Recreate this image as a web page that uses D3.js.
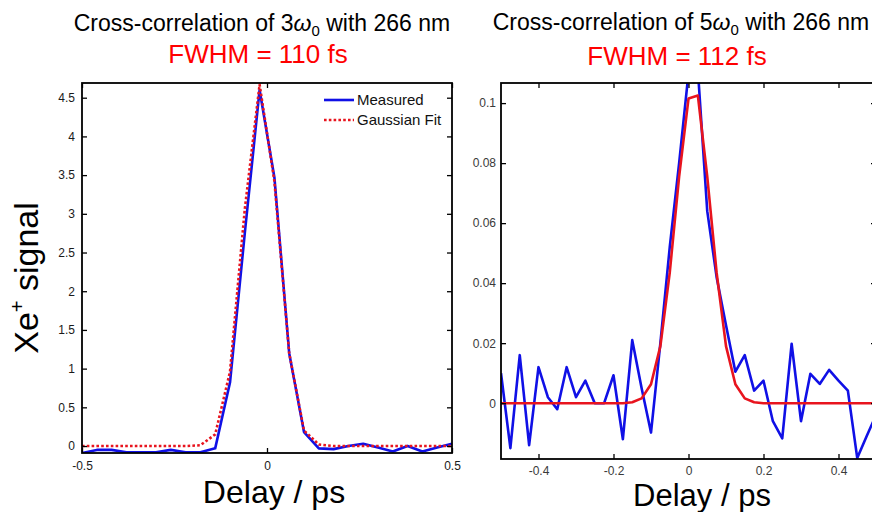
<!DOCTYPE html>
<html>
<head>
<meta charset="utf-8">
<script src="https://cdn.jsdelivr.net/npm/d3@7"></script>
<style>
  body { margin: 0; background: #fff; }
  svg { display: block; font-family: 'Liberation Sans', Arial, sans-serif; }
</style>
</head>
<body>
<div id="chart"></div>
<script>
// **********   Data   ******************************************************** //
var leftDelay = [-0.5, -0.46, -0.42, -0.38, -0.34, -0.3, -0.26, -0.22, -0.18, -0.14, -0.1, -0.06, -0.02,
  0.02, 0.06, 0.1, 0.14, 0.18, 0.22, 0.26, 0.3, 0.34, 0.38, 0.42, 0.46, 0.5];
var leftMeasured = [-0.09, -0.05, -0.05, -0.08, -0.08, -0.08, -0.05, -0.08, -0.08, -0.03, 0.82, 2.75, 4.6,
  3.47, 1.2, 0.18, -0.03, -0.04, 0.0, 0.03, -0.02, -0.07, 0.0, -0.07, -0.02, 0.03];
var leftFit = [0, 0, 0, 0, 0, 0, 0, 0, 0.01, 0.15, 0.96, 3.06, 4.67,
  3.42, 1.2, 0.2, 0.02, 0, 0, 0, 0, 0, 0, 0, 0, 0];
var leftXTicks = [-0.5, 0, 0.5];
var leftYTicks = [0, 0.5, 1, 1.5, 2, 2.5, 3, 3.5, 4, 4.5];

var rightDelay = [-0.5, -0.475, -0.45, -0.425, -0.4, -0.375, -0.35, -0.325, -0.3, -0.275, -0.25, -0.225,
  -0.2, -0.175, -0.15, -0.125, -0.1, -0.075, -0.05, -0.025, 0, 0.025, 0.05, 0.075, 0.1, 0.125, 0.15,
  0.175, 0.2, 0.225, 0.25, 0.275, 0.3, 0.325, 0.35, 0.375, 0.4, 0.425, 0.45, 0.475, 0.5];
var rightMeasured = [0.010, -0.015, 0.016, -0.014, 0.012, 0.002, -0.002, 0.012, 0.002, 0.0075, 0.0, 0.0,
  0.0093, -0.012, 0.021, 0.005, -0.0098, 0.02, 0.052, 0.08, 0.11, 0.111, 0.064, 0.042, 0.026, 0.0105, 0.016,
  0.0042, 0.0075, -0.006, -0.0117, 0.0198, -0.006, 0.0098, 0.0064, 0.0111, 0.0075, 0.0042, -0.0183, -0.011, -0.004];
var rightFit = [0, 0, 0, 0, 0, 0, 0, 0, 0, 0, 0, 0,
  0, 0, 0.0003, 0.0016, 0.0063, 0.019, 0.0435, 0.0755, 0.1015, 0.1025, 0.0755, 0.0435, 0.019, 0.0063, 0.0016,
  0.0003, 0, 0, 0, 0, 0, 0, 0, 0, 0, 0, 0, 0, 0];
var rightXTicks = [-0.4, -0.2, 0, 0.2, 0.4];
var rightYTicks = [0, 0.02, 0.04, 0.06, 0.08, 0.1];

var BLUE = '#1010e6', RED = '#e8141e';

var svg = d3.select('#chart').append('svg').attr('width', 872).attr('height', 512);

// **********   Panel   ******************************************************* //
function panel(o) {
  var x = d3.scaleLinear().domain([-0.5, 0.5]).range([o.left, o.right]);
  var y = d3.scaleLinear().domain(o.yDomain).range([o.bottom, o.top]);
  var g = svg.append('g');

  g.append('clipPath').attr('id', o.id)
    .append('rect')
    .attr('x', o.left).attr('y', o.top)
    .attr('width', o.right - o.left).attr('height', o.bottom - o.top);

  var line = d3.line()
    .x(function (d) { return x(d[0]); })
    .y(function (d) { return y(d[1]); });

  o.series.forEach(function (s) {
    g.append('path')
      .datum(d3.zip(o.delay, s.values))
      .attr('clip-path', 'url(#' + o.id + ')')
      .attr('fill', 'none')
      .attr('stroke', s.color)
      .attr('stroke-width', 2.6)
      .attr('stroke-dasharray', s.dash || null)
      .attr('stroke-linejoin', 'round')
      .attr('d', line);
  });

  var fmt = function (d) { return String(d); };
  var none = function () { return ''; };

  function styleAxis(a) {
    a.select('.domain').remove();
    a.selectAll('.tick line').attr('stroke', '#000').attr('stroke-width', 1.3);
    a.selectAll('.tick text').attr('fill', o.labelColor).style('font-size', '12px').style('font-family', 'inherit');
  }

  g.append('g').attr('transform', 'translate(0,' + o.bottom + ')')
    .call(d3.axisBottom(x).tickValues(o.xTicks).tickSizeInner(-5).tickSizeOuter(0).tickPadding(o.xPad).tickFormat(fmt))
    .call(styleAxis);
  g.append('g').attr('transform', 'translate(0,' + o.top + ')')
    .call(d3.axisTop(x).tickValues(o.xTicks).tickSizeInner(-5).tickSizeOuter(0).tickFormat(none))
    .call(styleAxis);
  g.append('g').attr('transform', 'translate(' + o.left + ',0)')
    .call(d3.axisLeft(y).tickValues(o.yTicks).tickSizeInner(-5).tickSizeOuter(0).tickPadding(o.yPad).tickFormat(fmt))
    .call(styleAxis);
  g.append('g').attr('transform', 'translate(' + o.right + ',0)')
    .call(d3.axisRight(y).tickValues(o.yTicks).tickSizeInner(-5).tickSizeOuter(0).tickFormat(none))
    .call(styleAxis);

  g.append('rect')
    .attr('x', o.left).attr('y', o.top)
    .attr('width', o.right - o.left).attr('height', o.bottom - o.top)
    .attr('fill', 'none').attr('stroke', '#000').attr('stroke-width', 1.8);

  return g;
}

var left = panel({
  id: 'clipL', left: 82, right: 452, top: 83, bottom: 453,
  yDomain: [-0.09, 4.69], delay: leftDelay,
  xTicks: leftXTicks, yTicks: leftYTicks, xPad: 8, yPad: 7, labelColor: '#1a1a1a',
  series: [
    { values: leftMeasured, color: BLUE },
    { values: leftFit, color: RED, dash: '2.6,2.2' }
  ]
});

panel({
  id: 'clipR', left: 501, right: 876, top: 83, bottom: 459,
  yDomain: [-0.0186, 0.1067], delay: rightDelay,
  xTicks: rightXTicks, yTicks: rightYTicks, xPad: 7, yPad: 5, labelColor: '#3a3a3a',
  series: [
    { values: rightMeasured, color: BLUE },
    { values: rightFit, color: RED }
  ]
});

// legend (left panel)
var legend = [
  { name: 'Measured', color: BLUE, dash: null, y: 100 },
  { name: 'Gaussian Fit', color: RED, dash: '2.6,2.2', y: 120 }
];
legend.forEach(function (l) {
  left.append('line').attr('x1', 324).attr('x2', 354).attr('y1', l.y).attr('y2', l.y)
    .attr('stroke', l.color).attr('stroke-width', 2.6).attr('stroke-dasharray', l.dash);
  left.append('text').attr('x', 357).attr('y', l.y).attr('dy', '0.36em')
    .style('font-size', '15px').attr('fill', '#111').text(l.name);
});

// **********   Titles and labels   ******************************************** //
function title(cx, n, fwhm, yT, yF) {
  var t = svg.append('text').attr('x', cx).attr('y', yT).attr('text-anchor', 'middle')
    .style('font-size', '23px').attr('fill', '#000');
  t.append('tspan').text('Cross-correlation of ' + n);
  t.append('tspan').style('font-style', 'italic').text('ω');
  t.append('tspan').attr('dy', 5).style('font-size', '15px').text('0');
  t.append('tspan').attr('dy', -5).text(' with 266 nm');

  svg.append('text').attr('x', cx - 4).attr('y', yF).attr('text-anchor', 'middle')
    .style('font-size', '26px').attr('fill', '#ff0000').text('FWHM = ' + fwhm + ' fs');
}
title(262, '3', 110, 31, 63);
title(681, '5', 112, 30, 65);

svg.append('text').attr('x', 274).attr('y', 503).attr('text-anchor', 'middle')
  .style('font-size', '32px').text('Delay / ps');
svg.append('text').attr('x', 702).attr('y', 506).attr('text-anchor', 'middle')
  .style('font-size', '31px').text('Delay / ps');

var yl = svg.append('text').attr('transform', 'translate(38,278) rotate(-90)')
  .attr('text-anchor', 'middle').style('font-size', '34px');
yl.append('tspan').text('Xe');
yl.append('tspan').attr('dy', -14).style('font-size', '20px').text('+');
yl.append('tspan').attr('dy', 14).text(' signal');
</script>
</body>
</html>
